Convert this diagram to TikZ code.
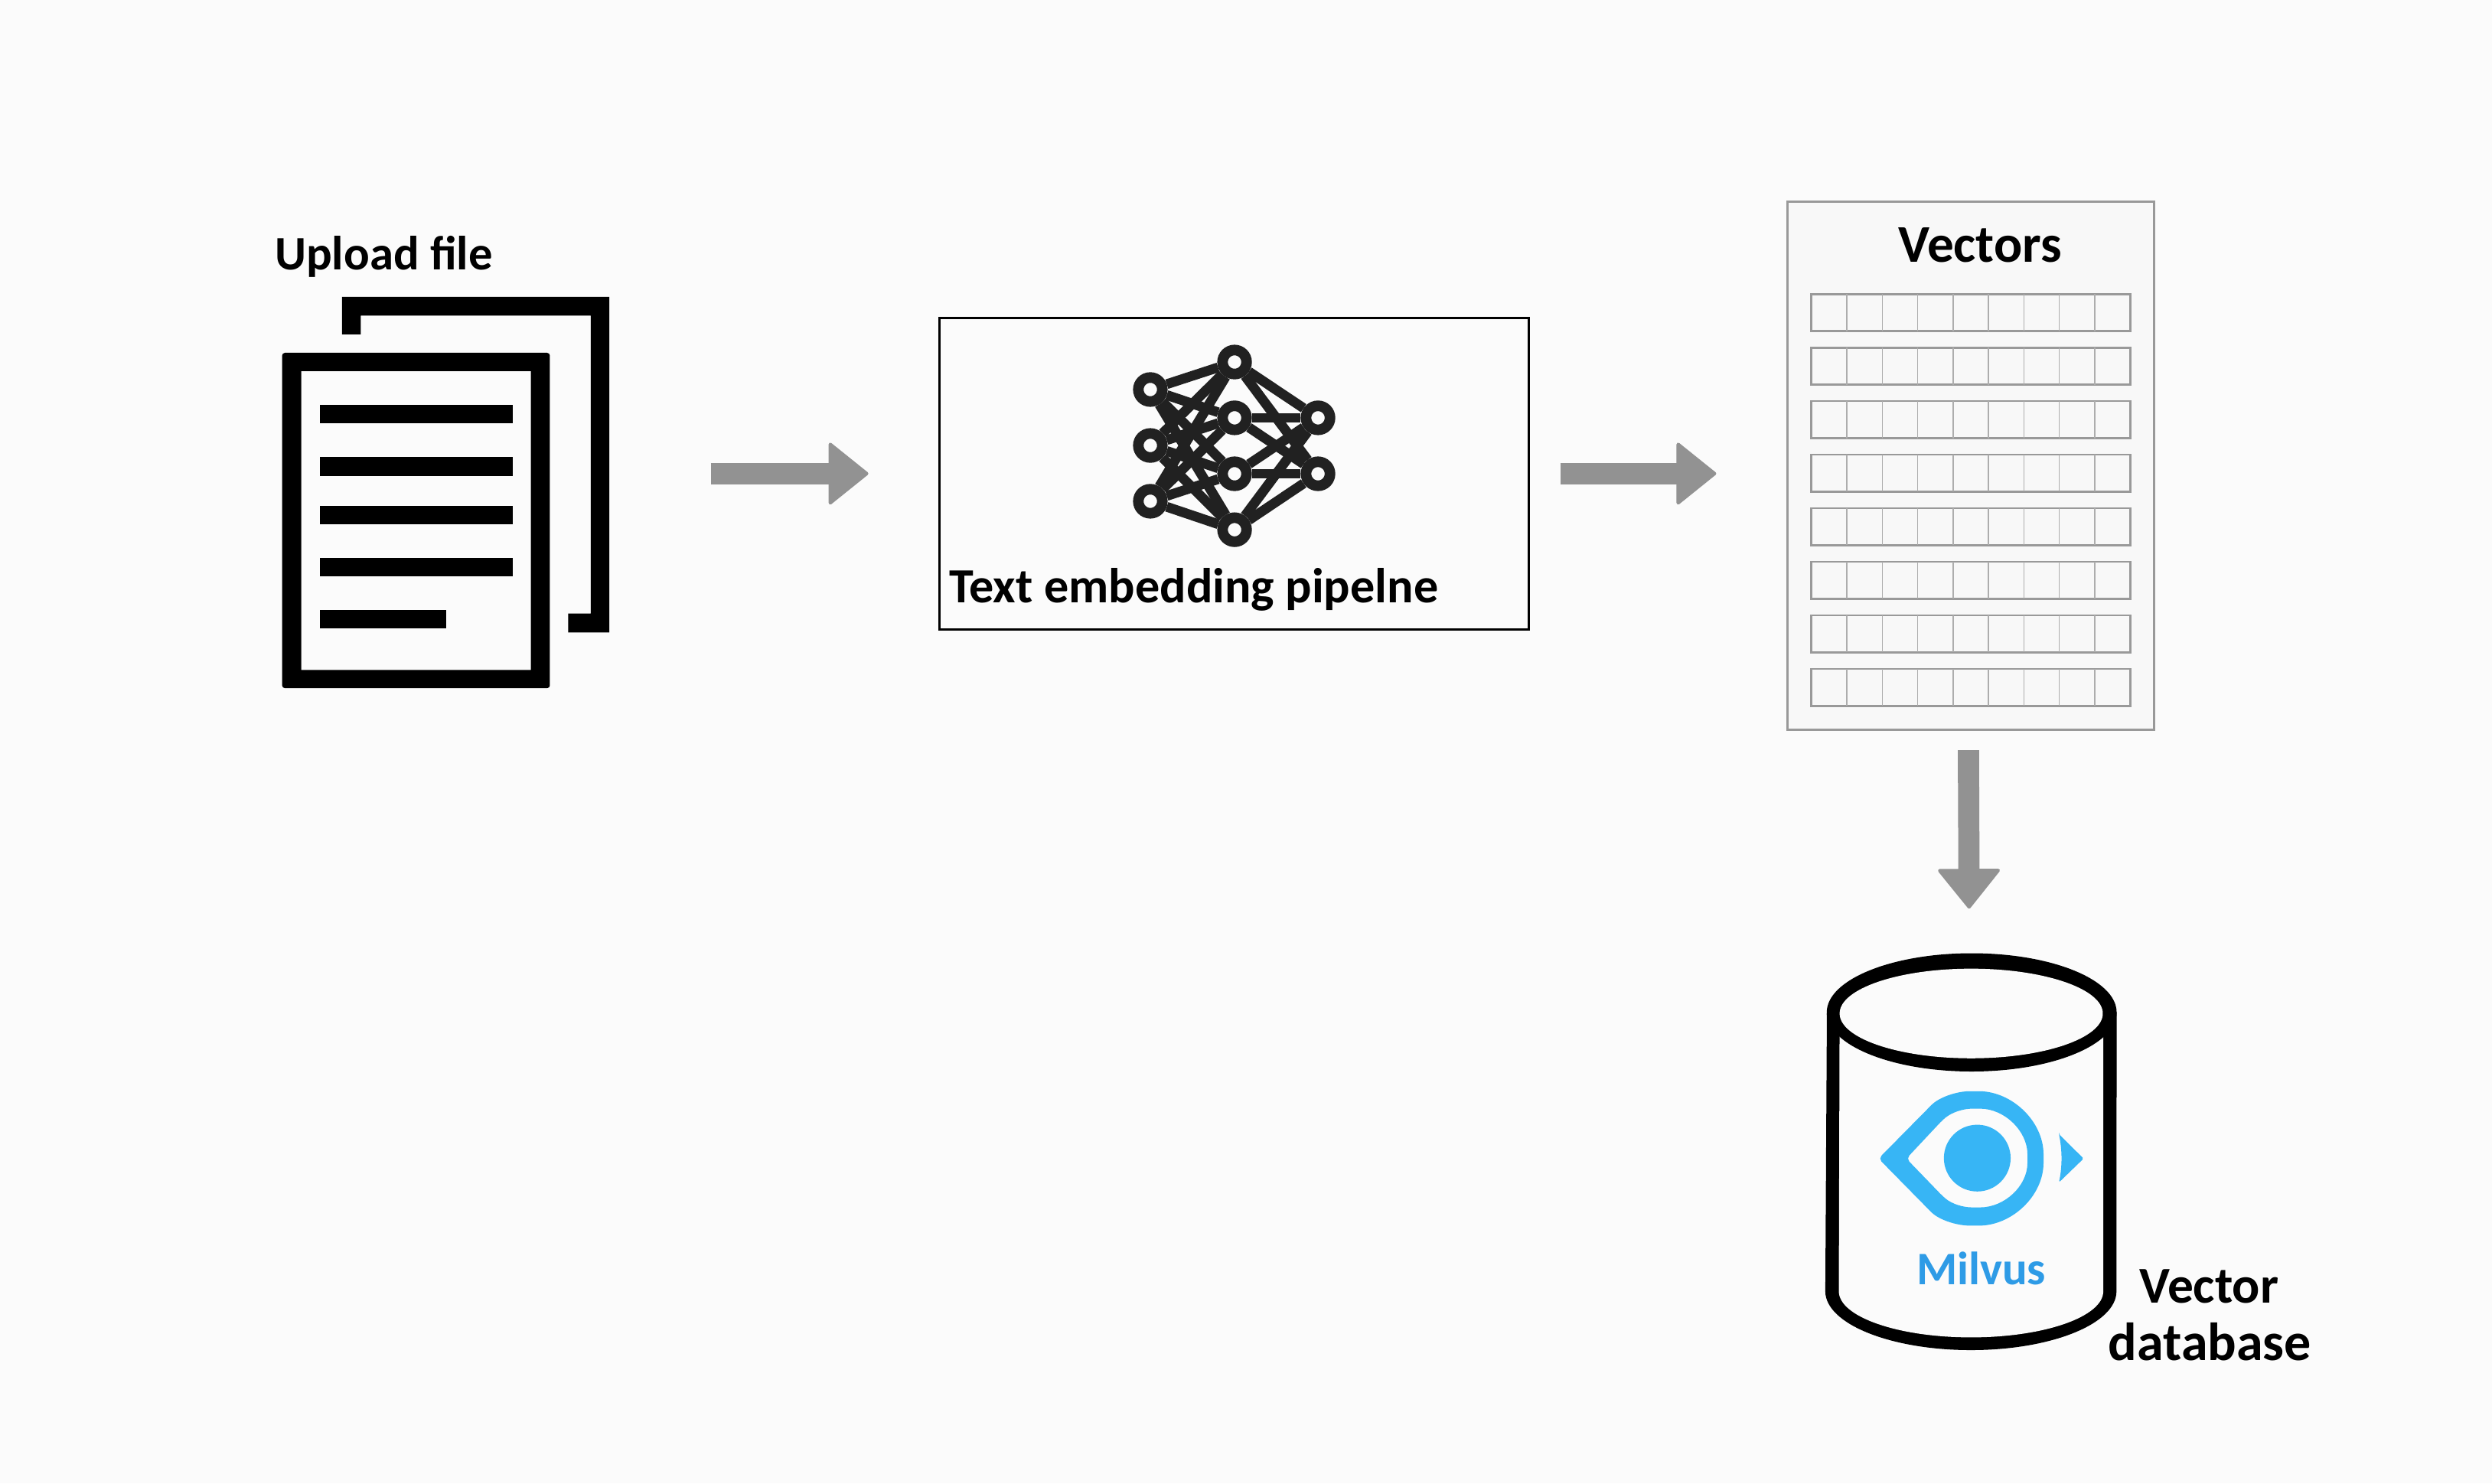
\documentclass[tikz,border=0pt]{standalone}
\usepackage{fontspec}
\setmainfont{Carlito}
\usetikzlibrary{arrows.meta}
\definecolor{pagebg}{HTML}{FBFBFB}
\definecolor{panelbg}{HTML}{F8F8F8}
\definecolor{panelgray}{HTML}{999999}
\definecolor{flowgray}{HTML}{929292}
\definecolor{netdark}{HTML}{212121}
\definecolor{eyeblue}{HTML}{37B5F5}
\definecolor{milvusblue}{HTML}{2E9BE6}
\tikzset{
   tagtext/.style={inner sep=0pt,font=\fontsize{#1}{24}\selectfont\bfseries},
   flow/.style={line width=7.6pt,flowgray,-{Triangle[length=14.6pt,width=23.2pt,round,line width=1.2pt]}},
   neuron/.style={circle,draw=netdark,fill=pagebg,line width=3.8pt,minimum size=8.6pt,inner sep=0pt},
   synapse/.style={netdark,line width=3.5pt},
   rowbox/.style={draw=panelgray,line width=0.75pt},
   cellline/.style={draw=panelgray!80,line width=0.4pt}
}
\begin{document}
\begin{tikzpicture}[x=0.02cm,y=-0.02cm]
   \fill[pagebg] (0,0) rectangle (1568,933.3);
   \useasboundingbox (0,0) rectangle (1568,933.3);

   % stack of files
   \fill[even odd rule] [rounded corners=1pt] (177.5,222) rectangle (346,433) [sharp corners] (189.5,233.5) rectangle (334,421.5);
   \fill (215.2,186.8) -- (383.4,186.8) -- (383.4,398) -- (357.5,398) -- (357.5,386) -- (371.7,386)
      -- (371.7,198.6) -- (227,198.6) -- (227,210.4) -- (215.2,210.4) -- cycle;
   \foreach \y in {254.6,287.5,318.2,350.9} \fill (201.3,\y) rectangle (322.7,\y+11.9);
   \fill (201.3,383.7) rectangle (280.7,395.5);
   \node[tagtext=17.2] (upload) at (241.5,161.5) {Upload file};
   \node[minimum width=206*0.02cm,minimum height=246*0.02cm,inner sep=0pt] (docs) at (281,310) {};

   % pipeline box
   \node[draw,line width=0.8pt,minimum width=371*0.02cm,minimum height=196*0.02cm,inner sep=0pt] (pipeline) at (776.5,298) {};
   \node[tagtext=17.6,anchor=west] (pipetext) at (597,371) {Text embedding pipelne};
   \foreach \n/\y in {1/245.1,2/280.3,3/315.4} \node[neuron] (in\n) at (723.8,\y) {};
   \foreach \n/\y in {1/227.8,2/262.9,3/298.1,4/333.3} \node[neuron] (mid\n) at (776.8,\y) {};
   \foreach \n/\y in {1/262.9,2/298.1} \node[neuron] (out\n) at (829.3,\y) {};
   \foreach \a in {1,2,3} \foreach \b in {1,2,3,4} \draw[synapse] (in\a) -- (mid\b);
   \foreach \a in {1,2,3,4} \foreach \b in {1,2} \draw[synapse] (mid\a) -- (out\b);

   % vectors panel
   \node[draw=panelgray,fill=panelbg,line width=0.8pt,minimum width=231*0.02cm,minimum height=332*0.02cm,inner sep=0pt] (vectors) at (1240,293) {};
   \node[tagtext=19] (vectitle) at (1246,154) {Vectors};
   \foreach \i in {0,...,7} {
      \pgfmathsetmacro{\rowy}{185+33.7*\i}
      \draw[rowbox] (1139.8,\rowy) rectangle +(200.5,23.3);
      \foreach \k in {1,...,8} \draw[cellline] (1139.8+22.28*\k,\rowy) -- +(0,23.3);
   }

   % database
   \fill (1149.5,637) -- (1148.5,812.5) arc[start angle=180,end angle=0,x radius=91.6,y radius=37]
      -- (1331.8,637) -- cycle;
   \fill[pagebg] (1157.5,637) -- (1157,812.5) arc[start angle=180,end angle=0,x radius=83.2,y radius=29]
      -- (1323.4,637) -- cycle;
   \fill (1240.6,637) circle[x radius=91.2,y radius=37.2];
   \fill[pagebg] (1240.3,637.7) circle[x radius=82.8,y radius=28.2];
   \node[minimum width=182*0.02cm,minimum height=249*0.02cm,inner sep=0pt] (db) at (1240.6,724.5) {};

   % milvus eye
   \fill[eyeblue,even odd rule,rounded corners=1.5pt]
      (1182,729) -- (1213.4,697.2) .. controls (1220,690.5) and (1231,686.6) .. (1242.4,686.6)
      .. controls (1266,686.6) and (1285.8,705.6) .. (1285.8,729)
      .. controls (1285.8,752.4) and (1266,771.2) .. (1242.4,771.2)
      .. controls (1231,771.2) and (1220,767.5) .. (1213.4,760.9) -- cycle
      (1199.5,729) -- (1222,705) .. controls (1228,700) and (1235,697.6) .. (1243.4,697.6)
      .. controls (1261,697.6) and (1275.7,711.5) .. (1275.7,729)
      .. controls (1275.7,746.5) and (1261,759.7) .. (1243.4,759.7)
      .. controls (1235,759.7) and (1228,757.5) .. (1222,752.3) -- cycle;
   \fill[eyeblue] (1244.1,728.7) circle[radius=21];
   \fill[eyeblue,rounded corners=0.5pt] (1295.5,713.6) -- (1311,729) -- (1295.5,744)
      .. controls (1297.6,734) and (1297.6,724) .. (1295.5,713.6) -- cycle;
   \node[tagtext=16.7,milvusblue] (milvus) at (1246.6,798) {Milvus};
   \node[tagtext=18.5] (vecword) at (1390,809.5) {Vector};
   \node[tagtext=19.2] (dbword) at (1390.5,844.5) {database};

   % flow between the stages
   \draw[flow,shorten <=35.8pt,shorten >=25pt] (pipeline.west -| docs.east) -- (pipeline.west);
   \draw[flow,shorten <=10.8pt,shorten >=25pt] (pipeline.east) -- (pipeline.east -| vectors.west);
   \draw[flow,shorten <=7pt,shorten >=15.9pt] ([xshift=-0.03cm]vectors.south) -- ([xshift=-0.03cm]db.north);
\end{tikzpicture}
\end{document}
